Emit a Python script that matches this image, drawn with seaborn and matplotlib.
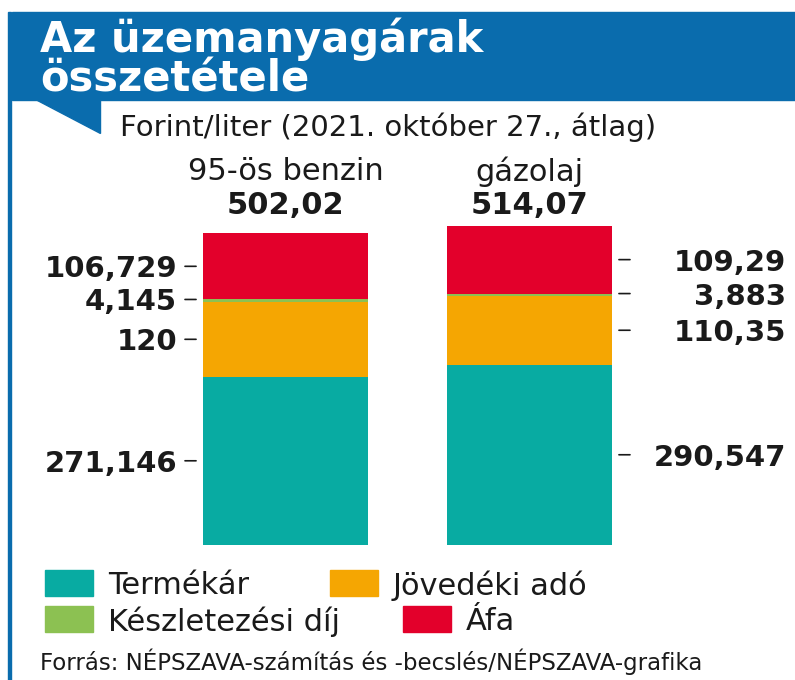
import matplotlib.pyplot as plt
from matplotlib.patches import Rectangle, Polygon
from matplotlib.transforms import blended_transform_factory
import pandas as pd
import seaborn as sns

# adatok
fuels = ['95-ös benzin', 'gázolaj']
fuel_totals = ['502,02', '514,07']
components = ['Termékár', 'Jövedéki adó', 'Készletezési díj', 'Áfa']
benzin = [271.146, 120, 4.145, 106.729]
gazolaj = [290.547, 110.35, 3.883, 109.29]
benzin_labels = ['271,146', '120', '4,145', '106,729']
gazolaj_labels = ['290,547', '110,35', '3,883', '109,29']
colors = ['#08aba2', '#f5a602', '#8cc152', '#e3002b']

BLUE = '#0a6cad'
INK = '#1a1a1a'

df = pd.DataFrame({
    'fuel': [fuels[0]] * 4 + [fuels[1]] * 4,
    'component': components * 2,
    'value': benzin + gazolaj,
    'label': benzin_labels + gazolaj_labels,
})
df['top'] = df.groupby('fuel')['value'].cumsum()
df['mid'] = df['top'] - df['value'] / 2

sns.set_style('white')
plt.rcParams['font.family'] = ['DejaVu Sans']

W, H = 795, 680
fig = plt.figure(figsize=(W / 100, H / 100), dpi=100)

def fx(px):
    return px / W

def fy(py):
    return 1 - py / H

# fejlec
fig.patches.append(Rectangle((fx(12), fy(100)), 1 - fx(12), fy(12) - fy(100),
                             transform=fig.transFigure, color=BLUE, zorder=0))
fig.patches.append(Rectangle((fx(8), 0), fx(3), fy(12),
                             transform=fig.transFigure, color=BLUE, zorder=0))
fig.patches.append(Polygon([(fx(37), fy(100)), (fx(100), fy(100)), (fx(100), fy(133))],
                           closed=True, transform=fig.transFigure, color=BLUE, zorder=0))
fig.text(fx(40), fy(91), 'Az üzemanyagárak\nösszetétele', color='white', fontsize=30,
         fontweight='bold', va='baseline', ha='left', linespacing=0.92)
fig.text(fx(120), fy(127), 'Forint/liter (2021. október 27., átlag)', color=INK,
         fontsize=21, va='center', ha='left')

# oszlopok
ax = fig.add_axes([0, 135 / H, 1, 323 / H])
bar_w = 165 / 244
for i in reversed(range(len(components))):
    layer = df[df['component'] == components[i]]
    sns.barplot(data=layer, x='fuel', y='top', order=fuels, color=colors[i],
                width=bar_w, saturation=1, linewidth=0, ax=ax)
ax.set_xlim(-285.5 / 244, (W - 285.5) / 244)
ax.set_ylim(0, 520)
ax.axis('off')

top_tr = blended_transform_factory(ax.transData, fig.transFigure)
for i, (name, tot) in enumerate(zip(fuels, fuel_totals)):
    ax.text(i, fy(172), name, transform=top_tr, ha='center', va='center',
            fontsize=22, color=INK)
    ax.text(i, fy(205), tot, transform=top_tr, ha='center', va='center',
            fontsize=22, fontweight='bold', color=INK)

right_tr = blended_transform_factory(fig.transFigure, ax.transData)
for i, fuel in enumerate(fuels):
    sub = df[df['fuel'] == fuel].reset_index(drop=True)
    side = -1 if i == 0 else 1
    edge = i + side * bar_w / 2
    for j, row in sub.iterrows():
        small = row['value'] < 10
        y = row['top'] if small else row['mid']
        ax.annotate('', xy=(edge, y), xytext=(side * 18, 0), textcoords='offset pixels',
                    arrowprops=dict(arrowstyle='-', color=INK, lw=1.2,
                                    shrinkA=0, shrinkB=5))
        if side < 0:
            ax.annotate(row['label'], xy=(edge, y), xytext=(-26, 0),
                        textcoords='offset pixels', ha='right', va='center_baseline',
                        fontsize=21, fontweight='bold', color=INK)
        else:
            ax.text(fx(786), y, row['label'], transform=right_tr, ha='right',
                    va='center_baseline', fontsize=21, fontweight='bold', color=INK)

# jelmagyarazat
legend_items = [
    (components[0], colors[0], 45, 583),
    (components[1], colors[1], 330, 583),
    (components[2], colors[2], 45, 619),
    (components[3], colors[3], 403, 619),
]
for name, col, x0, yc in legend_items:
    fig.patches.append(Rectangle((fx(x0), fy(yc + 13)), fx(48), 26 / H,
                                 transform=fig.transFigure, color=col))
    fig.text(fx(x0 + 63), fy(yc), name, fontsize=22, color=INK,
             va='center_baseline', ha='left')

fig.text(fx(40), fy(662), 'Forrás: NÉPSZAVA-számítás és -becslés/NÉPSZAVA-grafika',
         fontsize=16.5, color=INK, va='center', ha='left')

fig.savefig('out.png', dpi=100, facecolor='white')
